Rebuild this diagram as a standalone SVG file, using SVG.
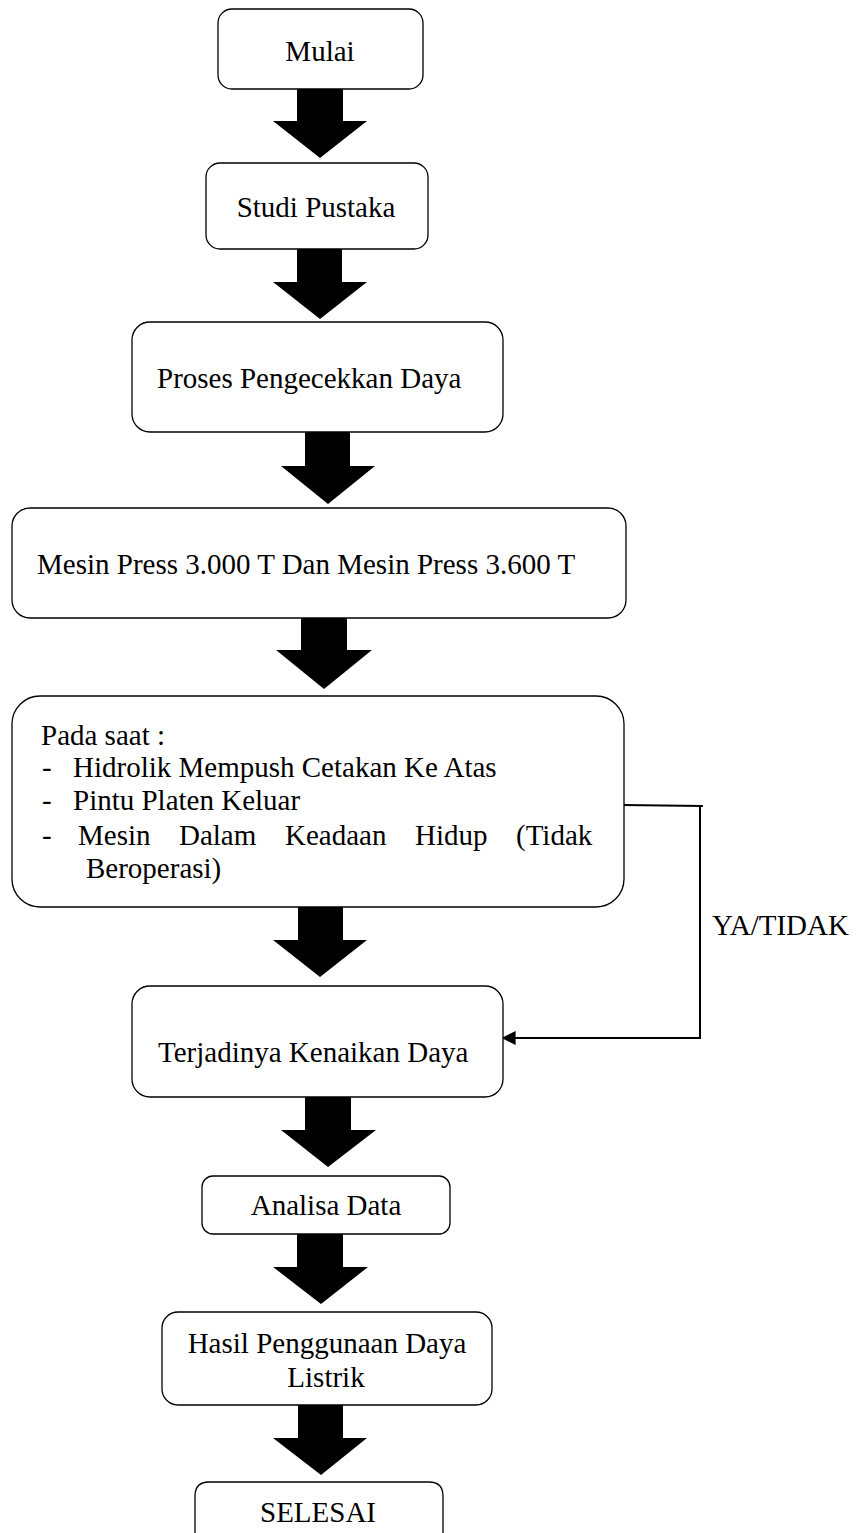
<svg xmlns="http://www.w3.org/2000/svg" width="859" height="1533" viewBox="0 0 859 1533">
<style>
.box{fill:#fff;stroke:#000;stroke-width:1.3}
.t{font-family:"Liberation Serif","Times New Roman",serif;font-size:29px;fill:#000}
.c{text-anchor:middle}
.arr{fill:#000}
.ln{fill:none;stroke:#000;stroke-width:2}
</style>
<defs>
<marker id="ah" viewBox="0 0 10 10" refX="9" refY="5" markerWidth="8" markerHeight="7" markerUnits="strokeWidth" orient="auto">
<path d="M0,0 L10,5 L0,10 Z" fill="#000"/>
</marker>
</defs>
<rect width="859" height="1533" fill="#fff"/>
<g id="connectors">
<polygon class="arr" points="297,89 343,89 343,121 367,121 320,158 273,121 297,121"/>
<polygon class="arr" points="297,249 342,249 342,282 367,282 320,319 273,282 297,282"/>
<polygon class="arr" points="305,432 350,432 350,466 375,466 328,504 281,466 305,466"/>
<polygon class="arr" points="301,618 347,618 347,650 372,650 324,689 276,650 301,650"/>
<polygon class="arr" points="298,907 343,907 343,940 367,940 320,977 273,940 298,940"/>
<polygon class="arr" points="305,1097 351,1097 351,1130 376,1130 328,1167 281,1130 305,1130"/>
<polygon class="arr" points="297,1234 343,1234 343,1267 368,1267 321,1304 273,1267 297,1267"/>
<polygon class="arr" points="298,1405 343,1405 343,1438 367,1438 321,1475 273,1438 298,1438"/>
<polyline class="ln" points="623,805 703,806"/>
<polyline class="ln" points="700,807 700,1039"/>
<line class="ln" x1="699" y1="1038" x2="503" y2="1038" marker-end="url(#ah)"/>
<text class="t" x="712" y="935" font-size="28">YA/TIDAK</text>
</g>
<g id="mulai">
<rect class="box" x="218" y="9" width="205" height="80" rx="14"/>
<text class="t c" x="320" y="61">Mulai</text>
</g>
<g id="studi">
<rect class="box" x="206" y="163" width="222" height="86" rx="14"/>
<text class="t c" x="316" y="217">Studi Pustaka</text>
</g>
<g id="proses">
<rect class="box" x="132" y="322" width="371" height="110" rx="18"/>
<text class="t" x="157" y="388">Proses Pengecekkan Daya</text>
</g>
<g id="mesin">
<rect class="box" x="12" y="508" width="614" height="110" rx="18"/>
<text class="t" x="37" y="574">Mesin Press 3.000 T Dan Mesin Press 3.600 T</text>
</g>
<g id="padasaat">
<rect class="box" x="12" y="696" width="612" height="211" rx="28"/>
<text class="t" x="41" y="745">Pada saat :</text>
<text class="t" x="42" y="777">-</text>
<text class="t" x="73" y="777">Hidrolik Mempush Cetakan Ke Atas</text>
<text class="t" x="42" y="810">-</text>
<text class="t" x="73" y="810">Pintu Platen Keluar</text>
<text class="t" x="42" y="845">-</text>
<text class="t" y="845"><tspan x="78">Mesin</tspan> <tspan x="179">Dalam</tspan> <tspan x="285">Keadaan</tspan> <tspan x="415">Hidup</tspan> <tspan x="516">(Tidak</tspan></text>
<text class="t" x="86" y="878">Beroperasi)</text>
</g>
<g id="terjadinya">
<rect class="box" x="132" y="986" width="371" height="111" rx="18"/>
<text class="t" x="158" y="1062">Terjadinya Kenaikan Daya</text>
</g>
<g id="analisa">
<rect class="box" x="202" y="1176" width="248" height="58" rx="11"/>
<text class="t c" x="326" y="1215">Analisa Data</text>
</g>
<g id="hasil">
<rect class="box" x="162" y="1312" width="330" height="93" rx="16"/>
<text class="t c" x="327" y="1353">Hasil Penggunaan Daya</text>
<text class="t c" x="326" y="1387">Listrik</text>
</g>
<g id="selesai">
<path class="box" d="M195,1540 L195,1496 Q195,1482 209,1482 L429,1482 Q443,1482 443,1496 L443,1540"/>
<text class="t c" x="318" y="1522">SELESAI</text>
</g>
</svg>
